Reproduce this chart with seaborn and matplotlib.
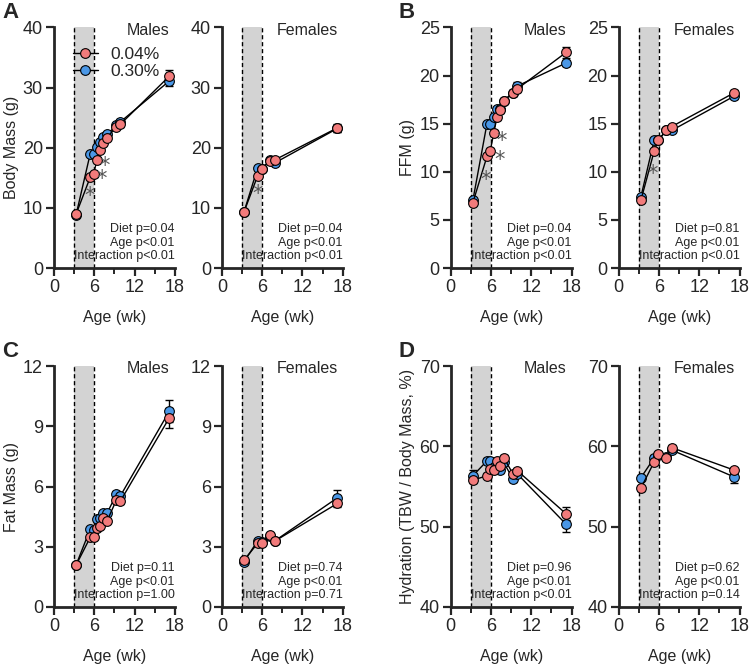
import seaborn as sns
import matplotlib.pyplot as plt
from matplotlib.lines import Line2D

# ages (wk)
age_m = [3.3, 5.4, 5.9, 6.4, 6.9, 7.3, 7.9, 9.3, 9.9, 17.2]
age_f = [3.3, 5.3, 5.9, 7.1, 7.9, 17.2]

# A: body mass (g)
bm_m_lo = [9.0, 15.1, 15.6, 18.0, 19.7, 20.8, 21.7, 23.5, 23.9, 31.9]
bm_m_hi = [8.9, 19.0, 18.9, 20.1, 21.0, 21.8, 22.2, 23.7, 24.3, 31.1]
bm_m_lo_se = [0.3, 0.4, 0.4, 0.4, 0.4, 0.4, 0.4, 0.4, 0.4, 1.0]
bm_m_hi_se = [0.3, 0.3, 0.3, 0.3, 0.3, 0.3, 0.3, 0.4, 0.4, 0.9]
bm_f_lo = [9.4, 15.3, 16.4, 17.85, 18.0, 23.3]
bm_f_hi = [9.4, 16.6, 16.4, 17.9, 17.5, 23.2]
bm_f_lo_se = [0.3, 0.3, 0.3, 0.3, 0.3, 0.7]
bm_f_hi_se = [0.3, 0.3, 0.3, 0.3, 0.3, 0.6]

# B: fat-free mass (g)
ffm_m_lo = [6.8, 11.6, 12.2, 14.0, 15.7, 16.4, 17.4, 18.2, 18.6, 22.4]
ffm_m_hi = [7.05, 15.0, 15.0, 15.7, 16.5, 16.5, 17.4, 18.2, 18.9, 21.3]
ffm_m_lo_se = [0.2, 0.3, 0.3, 0.3, 0.3, 0.3, 0.3, 0.3, 0.3, 0.6]
ffm_m_hi_se = [0.2, 0.2, 0.2, 0.2, 0.2, 0.2, 0.2, 0.3, 0.4, 0.3]
ffm_f_lo = [7.05, 12.2, 13.3, 14.3, 14.7, 18.2]
ffm_f_hi = [7.4, 13.35, 13.3, 14.3, 14.3, 17.85]
ffm_f_lo_se = [0.2, 0.2, 0.2, 0.2, 0.2, 0.3]
ffm_f_hi_se = [0.2, 0.2, 0.2, 0.2, 0.2, 0.3]

# C: fat mass (g)
fm_m_lo = [2.09, 3.47, 3.47, 3.95, 4.05, 4.45, 4.28, 5.33, 5.28, 9.43]
fm_m_hi = [2.1, 3.88, 3.83, 4.37, 4.45, 4.7, 4.67, 5.61, 5.54, 9.76]
fm_m_lo_se = [0.1, 0.1, 0.1, 0.1, 0.1, 0.1, 0.1, 0.15, 0.15, 0.5]
fm_m_hi_se = [0.1, 0.1, 0.1, 0.1, 0.1, 0.1, 0.1, 0.15, 0.15, 0.55]
fm_f_lo = [2.34, 3.17, 3.17, 3.59, 3.29, 5.16]
fm_f_hi = [2.26, 3.29, 3.25, 3.55, 3.3, 5.44]
fm_f_lo_se = [0.1, 0.1, 0.1, 0.1, 0.1, 0.2]
fm_f_hi_se = [0.1, 0.1, 0.1, 0.1, 0.1, 0.4]

# D: hydration (%)
hyd_m_lo = [55.8, 56.35, 57.15, 57.1, 58.2, 57.55, 58.6, 56.55, 57.0, 51.6]
hyd_m_hi = [56.35, 58.2, 58.2, 57.4, 57.5, 57.05, 58.0, 55.9, 56.6, 50.3]
hyd_m_lo_se = [0.4, 0.3, 0.3, 0.3, 0.3, 0.3, 0.3, 0.3, 0.3, 0.8]
hyd_m_hi_se = [0.7, 0.3, 0.3, 0.3, 0.3, 0.3, 0.3, 0.3, 0.3, 0.9]
hyd_f_lo = [54.8, 58.1, 59.0, 58.6, 59.85, 57.05]
hyd_f_hi = [56.1, 58.6, 58.9, 58.7, 59.55, 56.2]
hyd_f_lo_se = [0.3, 0.3, 0.3, 0.3, 0.3, 0.3]
hyd_f_hi_se = [0.3, 0.3, 0.3, 0.3, 0.3, 0.7]

diets = ['0.04%', '0.30%']
colors = {'0.04%': '#F27B7B', '0.30%': '#4A97E6'}

ylabels = ['Body Mass (g)', 'FFM (g)', 'Fat Mass (g)', 'Hydration (TBW / Body Mass, %)']
yticks = [[0, 10, 20, 30, 40], [0, 5, 10, 15, 20, 25], [0, 3, 6, 9, 12], [40, 50, 60, 70]]
letters = ['A', 'B', 'C', 'D']

stats = {
    ('A', 'Males'): 'Diet p=0.04\nAge p<0.01\nInteraction p<0.01',
    ('A', 'Females'): 'Diet p=0.04\nAge p<0.01\nInteraction p<0.01',
    ('B', 'Males'): 'Diet p=0.04\nAge p<0.01\nInteraction p<0.01',
    ('B', 'Females'): 'Diet p=0.81\nAge p<0.01\nInteraction p<0.01',
    ('C', 'Males'): 'Diet p=0.11\nAge p<0.01\nInteraction p=1.00',
    ('C', 'Females'): 'Diet p=0.74\nAge p<0.01\nInteraction p=0.71',
    ('D', 'Males'): 'Diet p=0.96\nAge p<0.01\nInteraction p<0.01',
    ('D', 'Females'): 'Diet p=0.62\nAge p<0.01\nInteraction p=0.14',
}

# significant points (index into 0.04% series) and label offset in pixels
stars = {
    ('A', 'Males'): [(1, -1, -19), (2, 8, -5), (3, 8, -6)],
    ('A', 'Females'): [(1, 0, -18)],
    ('B', 'Males'): [(1, -1, -24), (2, 9, -9), (3, 8, -8)],
    ('B', 'Females'): [(1, -2, -23)],
}

panels = {
    'A': ((bm_m_lo, bm_m_lo_se, bm_m_hi, bm_m_hi_se), (bm_f_lo, bm_f_lo_se, bm_f_hi, bm_f_hi_se)),
    'B': ((ffm_m_lo, ffm_m_lo_se, ffm_m_hi, ffm_m_hi_se), (ffm_f_lo, ffm_f_lo_se, ffm_f_hi, ffm_f_hi_se)),
    'C': ((fm_m_lo, fm_m_lo_se, fm_m_hi, fm_m_hi_se), (fm_f_lo, fm_f_lo_se, fm_f_hi, fm_f_hi_se)),
    'D': ((hyd_m_lo, hyd_m_lo_se, hyd_m_hi, hyd_m_hi_se), (hyd_f_lo, hyd_f_lo_se, hyd_f_hi, hyd_f_hi_se)),
}

sns.set_style('ticks')
plt.rcParams['font.family'] = ['Liberation Sans', 'DejaVu Sans']

fig = plt.figure(figsize=(7.5, 6.67), dpi=100)

lefts = {('A', 'Males'): 0.072, ('A', 'Females'): 0.296,
         ('B', 'Males'): 0.601, ('B', 'Females'): 0.825}
W, H = 0.161, 0.361


def draw(ax, ages, lo, lo_se, hi, hi_se):
    ax.axvspan(3, 6, color='#d3d3d3', lw=0, zorder=0)
    for xv in (3, 6):
        ax.axvline(xv, color='black', lw=1, ls=(0, (3, 2)), zorder=1)
    for vals, se, d in ((hi, hi_se, '0.30%'), (lo, lo_se, '0.04%')):
        ax.errorbar(ages, vals, yerr=se, fmt='none', ecolor='black', elinewidth=1,
                    capsize=3, capthick=1, zorder=2)
        sns.lineplot(x=ages, y=vals, ax=ax, color='black', lw=1, marker='o',
                     markersize=7, markerfacecolor=colors[d], markeredgecolor='black',
                     markeredgewidth=0.8, errorbar=None, zorder=3)


for r, letter in enumerate(letters):
    row = r // 2
    col = r % 2
    bottom = 0.598 if row == 0 else 0.09
    for s, sex in enumerate(['Males', 'Females']):
        left = lefts[('AB'[col], sex)]
        ax = fig.add_axes([left, bottom, W, H])
        lo, lo_se, hi, hi_se = panels[letter][s]
        ages = age_m if sex == 'Males' else age_f
        draw(ax, ages, lo, lo_se, hi, hi_se)

        ax.set_xlim(0, 18)
        ax.set_ylim(yticks[r][0], yticks[r][-1])
        ax.set_xticks([0, 6, 12, 18])
        ax.set_xticks([3, 9, 15], minor=True)
        ax.set_yticks(yticks[r])
        ax.set_xlabel('Age (wk)', fontsize=11.5, labelpad=10)
        ax.set_ylabel(ylabels[r] if sex == 'Males' else '', fontsize=11.5, labelpad=3)
        sns.despine(ax=ax)
        for sp in ('left', 'bottom'):
            ax.spines[sp].set_linewidth(2)
        ax.tick_params(axis='both', which='major', length=6, width=1.6, labelsize=13, pad=2)
        ax.tick_params(axis='x', which='minor', length=4, width=1.4)

        ax.text(0.96, 1.02, sex, transform=ax.transAxes, ha='right', va='top', fontsize=11.5)
        ax.text(1.0, 0.025, stats[(letter, sex)], transform=ax.transAxes, ha='right',
                va='bottom', fontsize=9, linespacing=1.15)

        for i, dx, dy in stars.get((letter, sex), []):
            ax.annotate('*', xy=(ages[i], lo[i]), xytext=(dx, dy), textcoords='offset pixels',
                        ha='center', va='center', fontsize=15, color='#555555',
                        family='DejaVu Sans')

        if sex == 'Males':
            fig.text(left - 0.069, bottom + H + 0.038, letter, fontsize=16,
                     fontweight='bold', va='top', ha='left')

        if letter == 'A' and sex == 'Males':
            handles = [Line2D([], [], color='black', lw=1, marker='o', markersize=7,
                              markerfacecolor=colors[d], markeredgecolor='black',
                              markeredgewidth=0.8) for d in diets]
            ax.legend(handles, diets, loc='upper left', bbox_to_anchor=(0.16, 0.92),
                      frameon=False, fontsize=12.5, handlelength=1.4, handletextpad=0.75,
                      labelspacing=0.12, borderaxespad=0, borderpad=0)

fig.savefig('out.png', dpi=100)
